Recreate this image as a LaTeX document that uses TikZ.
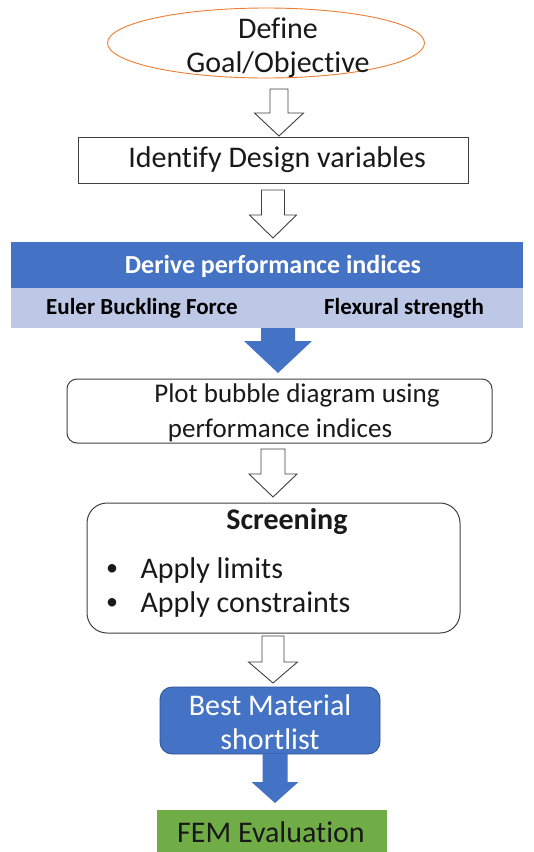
\documentclass[tikz,border=0pt]{standalone}
\usepackage{fontspec}
\setmainfont[Ligatures={NoCommon}]{Carlito}
\usetikzlibrary{shapes.geometric}
\definecolor{ored}{HTML}{ED7D31}
\definecolor{mblue}{HTML}{4472C4}
\definecolor{dblue}{HTML}{2F528F}
\definecolor{lblue}{HTML}{BDC8E6}
\definecolor{mgreen}{HTML}{70AD47}
\definecolor{bline}{HTML}{404040}
\newcommand\blkarrow[7]{%
  \draw[#1] (#2-#6,#3) -- (#2+#6,#3) -- (#2+#6,#4) -- (#2+#7,#4) -- (#2,#5)
    -- (#2-#7,#4) -- (#2-#6,#4) -- cycle;}
\begin{document}
\begin{tikzpicture}[x=1pt,y=-1pt,
  hollow/.style={draw=bline,fill=white,line width=0.9pt,line join=miter},
  solidarr/.style={draw=none,fill=mblue},
  plainbox/.style={draw=bline,line width=1pt,inner sep=0pt},
  big/.style={font=\fontsize{30}{34}\selectfont,align=center,text=black!90}]
\path[use as bounding box] (0,0) rectangle (534,852);
% goal
\node[ellipse,draw=ored,line width=0.9pt,minimum width=317,minimum height=70,inner sep=0pt] (goal) at (266,43) {};
\node[big] (goalt) at (278,48) {Define\\Goal/Objective};
\blkarrow{hollow}{279}{89}{113}{136}{9}{24.5}
% identify
\node[plainbox,minimum width=390,minimum height=46] (ident) at (273,160) {};
\node[big] (identt) at (277,160) {Identify Design variables};
\blkarrow{hollow}{273}{190}{215}{238}{11.5}{23.5}
% band
\fill[mblue] (11,242) rectangle (523,288);
\fill[lblue] (11,288) rectangle (523,328);
\node[text=white,font=\bfseries\fontsize{26}{30}\selectfont] (derive) at (273,266) {Derive performance indices};
\node[text=black,font=\bfseries\fontsize{23}{26}\selectfont] (euler) at (142,308) {Euler Buckling Force};
\node[text=black,font=\bfseries\fontsize{23}{26}\selectfont] (flex) at (404,308) {Flexural strength};
\blkarrow{solidarr}{278}{328}{341}{373}{17}{34}
% plot
\node[plainbox,rounded corners=10pt,minimum width=425,minimum height=64] (plot) at (279.5,411) {};
\node[big,font=\fontsize{27}{35}\selectfont,anchor=base] (plott1) at (297,402) {Plot bubble diagram using};
\node[big,font=\fontsize{27}{35}\selectfont,anchor=base] (plott2) at (280,437) {performance indices};
\blkarrow{hollow}{273}{449}{474}{497}{12}{24}
% screening
\node[plainbox,rounded corners=20pt,minimum width=373,minimum height=130] (screen) at (273.5,568) {};
\node[big,font=\bfseries\fontsize{30}{34}\selectfont] (screent) at (287,522) {Screening};
\node[big,font=\fontsize{24}{30}\selectfont] (b1) at (112,570) {•};
\node[big,anchor=west] (l1) at (137,570) {Apply limits};
\node[big,font=\fontsize{24}{30}\selectfont] (b2) at (112,604) {•};
\node[big,anchor=west] (l2) at (137,604) {Apply constraints};
\blkarrow{hollow}{273}{636}{662}{683}{11}{24.5}
% best
\node[draw=dblue,fill=mblue,line width=0.8pt,rounded corners=12pt,minimum width=220,minimum height=67,inner sep=0pt] (best) at (270,720.5) {};
\node[big,text=white] (bestt) at (270,722) {Best Material\\shortlist};
\blkarrow{solidarr}{275}{754}{782}{803}{12.5}{23.5}
% fem
\fill[mgreen] (157,810) rectangle (387,856);
\node[big] (fem) at (271,832) {FEM Evaluation};
\end{tikzpicture}
\end{document}
